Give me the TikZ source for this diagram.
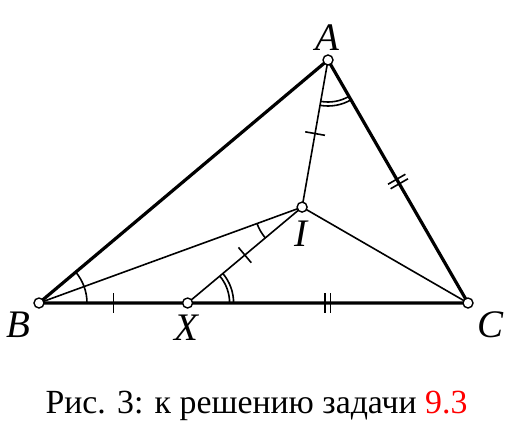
\documentclass[tikz,border=0pt]{standalone}
\usepackage{fontspec}
\setmainfont{Liberation Serif}
\usetikzlibrary{calc,angles}

\begin{document}
\begin{tikzpicture}[x=0.5pt,y=-0.5pt,
  side/.style={line width=1.6pt},
  cevian/.style={line width=0.8pt},
  tick/.style={line width=0.8pt},
  arcmark/.style={draw,line width=0.8pt},
  vertex/.style={circle,draw,fill=white,inner sep=0pt,minimum size=5pt,line width=0.7pt},
  ptlabel/.style={font=\fontsize{19.5}{19.5}\selectfont\itshape}]
  \useasboundingbox (0,0) rectangle (507,434);

  %% Points of the triangle, I is the incenter, CX = CA
  \coordinate (A) at (328,60);
  \coordinate (B) at (39,303);
  \coordinate (C) at (468,303);
  \coordinate (I) at (302.1,207.1);
  \coordinate (X) at (187.6,303);

  %% Sides and segments
  \draw[side] (A) -- (B) -- (C) -- cycle;
  \foreach \p in {A,B,C,X}
  {
    \draw[cevian] (I) -- (\p);
  }

  %% Equal angles
  \pic[arcmark,angle radius=24pt] {angle = C--B--I};
  \pic[arcmark,angle radius=24pt] {angle = I--B--A};
  \pic[arcmark,angle radius=24pt] {angle = B--I--X};
  \foreach \r in {21,23}
  {
    \pic[arcmark,angle radius=\r pt] {angle = I--A--C};
    \pic[arcmark,angle radius=\r pt] {angle = C--X--I};
  }

  %% Equal segments: one tick
  \foreach \p/\q in {A/I,I/X,B/X}
  {
    \draw[tick] ($(\p)!0.5!(\q)!5pt!90:(\q)$) -- ($(\p)!0.5!(\q)!5pt!-90:(\q)$);
  }
  %% Equal segments: two ticks
  \foreach \p/\q in {A/C,X/C}
  {
    \foreach \d in {-1.3pt,1.3pt}
    {
      \draw[tick] ($(\p)!0.5!(\q)!\d!(\q)!5pt!90:(\q)$) -- ($(\p)!0.5!(\q)!\d!(\q)!5pt!-90:(\q)$);
    }
  }

  %% Vertex circles
  \foreach \p in {A,B,C,I,X}
  {
    \node[vertex] (pt\p) at (\p) {};
  }

  %% Labels
  \node[ptlabel] (labA) at (327,38) {A};
  \node[ptlabel] (labB) at (18,325) {B};
  \node[ptlabel] (labC) at (490,325) {C};
  \node[ptlabel] (labX) at (186,328) {X};
  \node[ptlabel] (labI) at (301,234) {I};

  %% Caption
  \node[anchor=base,font=\fontsize{16.9}{16.9}\selectfont] (caption) at (256.5,413)
    {Рис. 3: к решению задачи \textcolor{red}{9.3}};
\end{tikzpicture}
\end{document}
